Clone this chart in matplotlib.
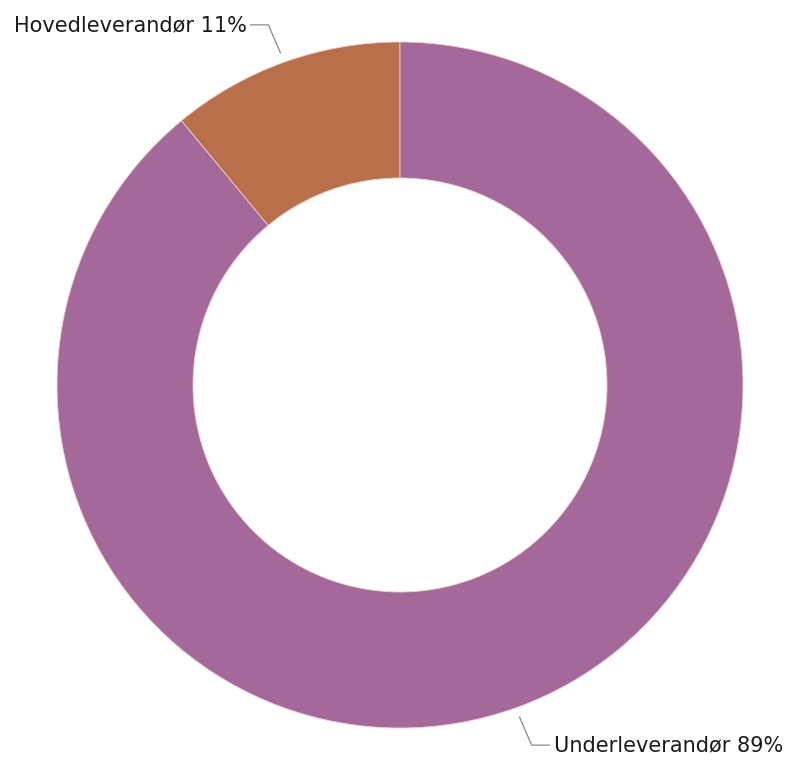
import matplotlib.pyplot as plt
import numpy as np

labels = ['Hovedleverandør', 'Underleverandør']
values = [11, 89]
colors = ['#B96F4A', '#A4689A']

fig = plt.figure(figsize=(7.89, 7.6), dpi=100)
ax = fig.add_axes([0, 0, 1, 1])

cx, cy, r = 400, 375, 343
wedges, _ = ax.pie(values, colors=colors, startangle=90, counterclock=True,
                   center=(cx, cy), radius=r, frame=True,
                   wedgeprops=dict(width=136, edgecolor='#f0d0c8', linewidth=0.6))
ax.set_xlim(0, 789)
ax.set_ylim(0, 760)
ax.axis('off')

# leader lines + labels
line_col = '#8a8a8a'
for w, lab, val in zip(wedges, labels, values):
    ang = np.deg2rad((w.theta1 + w.theta2) / 2)
    x0 = cx + (r + 10) * np.cos(ang)
    y0 = cy + (r + 10) * np.sin(ang)
    sgn = np.sign(np.cos(ang))
    x1 = x0 + sgn * 12
    y1 = y0 + np.sign(np.sin(ang)) * 28
    x2 = x1 + sgn * 18
    ax.plot([x0, x1, x2], [y0, y1, y1], color=line_col, lw=0.9)
    ax.text(x2 + sgn * 4, y1, f'{lab} {val}%', fontsize=15, color='#1a1a1a',
            ha='left' if sgn > 0 else 'right', va='center')

fig.savefig('out.png', dpi=100)
